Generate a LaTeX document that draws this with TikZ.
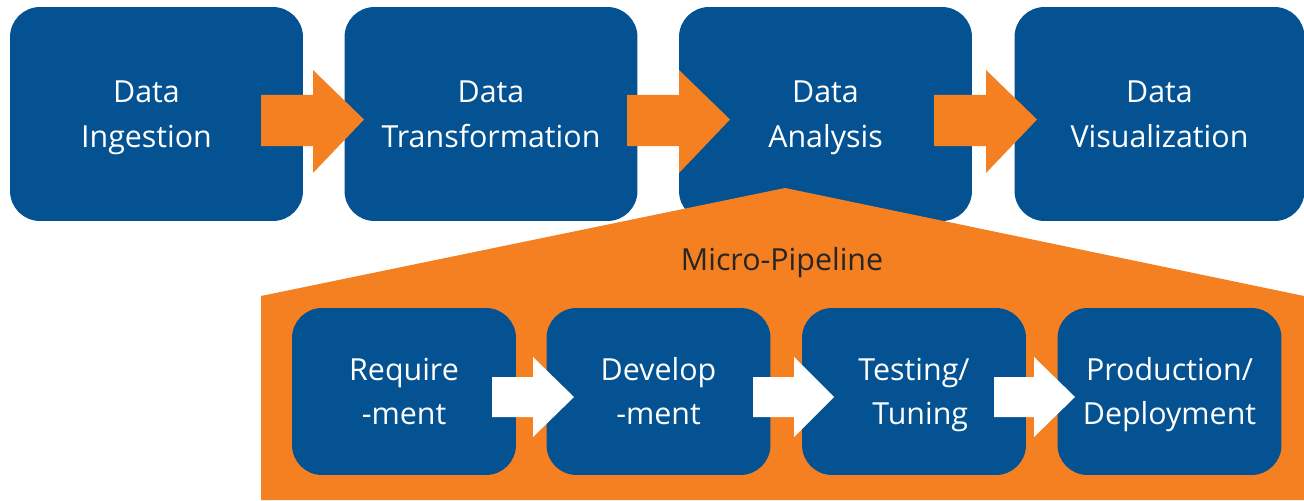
\documentclass[tikz,border=0pt]{standalone}
\usepackage{fontspec}
\setmainfont{Open Sans}
\definecolor{boxblue}{RGB}{4,82,145}
\definecolor{accorange}{RGB}{245,128,34}
\definecolor{darktext}{RGB}{38,38,38}
\newcommand{\twoln}[2]{\rule{0pt}{12.3pt}\smash{#1}\\\smash{#2}}
\tikzset{
  bigbox/.style={fill=boxblue, rounded corners=0.6cm, minimum width=5.86cm, minimum height=4.28cm, inner sep=0pt,
    text=white, align=center, font=\fontsize{17.3}{25.5}\selectfont},
  smallbox/.style={fill=boxblue, rounded corners=0.6cm, minimum width=4.48cm, minimum height=3.34cm, inner sep=0pt,
    text=white, align=center, font=\fontsize{17.3}{25}\selectfont},
  toparrow/.style={fill=accorange},
  botarrow/.style={fill=white},
  house/.style={fill=accorange},
}
\begin{document}
\begin{tikzpicture}[x=0.02cm,y=-0.02cm]
\useasboundingbox (0,0) rectangle (1304,500);
% top boxes
\node[bigbox] (t1) at (156.5,114) {\twoln{Data\hspace*{0.4cm}}{Ingestion\hspace*{0.4cm}}};
\node[bigbox] (t2) at (491,114) {\twoln{Data}{Transformation}};
\node[bigbox] (t3) at (825.5,114) {\twoln{Data}{Analysis}};
\node[bigbox, minimum width=5.8cm] (t4) at (1159.5,114) {\twoln{Data}{Visualization}};
% top arrows
\fill[toparrow] (261,95) -- (313,95) -- (313,70) -- (364,119.5) -- (313,173) -- (313,146) -- (261,146) -- cycle;
\fill[toparrow] (627,95) -- (679,95) -- (679,70) -- (730,119.5) -- (679,173) -- (679,146) -- (627,146) -- cycle;
\fill[toparrow] (934,95) -- (986,95) -- (986,70) -- (1037,119.5) -- (986,173) -- (986,146) -- (934,146) -- cycle;
% micro-pipeline house
\fill[house] (261,296) -- (785,188) -- (1304,296) -- (1304,500) -- (261,500) -- cycle;
\node[text=darktext, font=\fontsize{17.3}{20}\selectfont, anchor=base, inner sep=0pt] (mp) at (782,270) {Micro-Pipeline};
% bottom boxes
\node[smallbox] (b1) at (404,391.5) {\twoln{Require}{-ment}};
\node[smallbox] (b2) at (658.5,391.5) {\twoln{Develop}{-ment}};
\node[smallbox] (b3) at (914,391.5) {\twoln{Testing/}{\hspace*{0.25cm}Tuning}};
\node[smallbox] (b4) at (1169.5,391.5) {\twoln{Production/}{Deployment}};
% bottom arrows
\fill[botarrow] (492,377) -- (533,377) -- (533,357) -- (574,397) -- (533,437) -- (533,417) -- (492,417) -- cycle;
\fill[botarrow] (753,377) -- (794,377) -- (794,357) -- (834,397) -- (794,437) -- (794,417) -- (753,417) -- cycle;
\fill[botarrow] (994,377) -- (1034,377) -- (1034,357) -- (1075,397) -- (1034,437) -- (1034,417) -- (994,417) -- cycle;
\end{tikzpicture}
\end{document}
